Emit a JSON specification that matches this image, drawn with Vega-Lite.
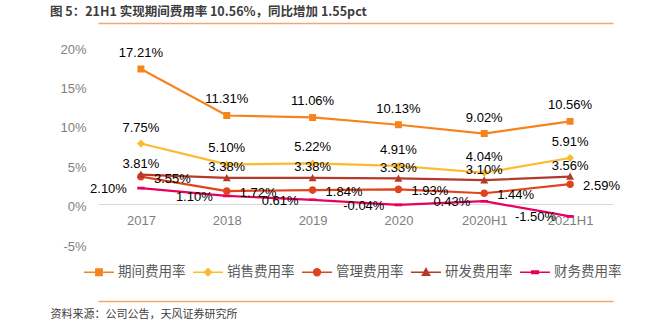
{
  "$schema": "https://vega.github.io/schema/vega-lite/v6.json",
  "width": 515,
  "height": 197,
  "autosize": "none",
  "padding": {"left": 98, "top": 47, "right": 47, "bottom": 83},
  "config": {
    "view": {"stroke": null},
    "font": "Liberation Sans",
    "locale": {"number": {"decimal": ".", "thousands": ",", "grouping": [3], "currency": ["", ""], "minus": "-"}}
  },
  "title": {
    "text": "图 5：21H1 实现期间费用率 10.56%，同比增加 1.55pct",
    "anchor": "start",
    "frame": "group",
    "dx": -48,
    "offset": 5,
    "font": "Noto Sans CJK SC",
    "fontSize": 12.5,
    "fontWeight": "bold",
    "color": "#3c3c3c"
  },
  "data": {
    "values": [
      {"period": "2017", "series": "期间费用率", "value": 0.1721},
      {"period": "2018", "series": "期间费用率", "value": 0.1131},
      {"period": "2019", "series": "期间费用率", "value": 0.1106},
      {"period": "2020", "series": "期间费用率", "value": 0.1013},
      {"period": "2020H1", "series": "期间费用率", "value": 0.0902},
      {"period": "2021H1", "series": "期间费用率", "value": 0.1056},
      {"period": "2017", "series": "销售费用率", "value": 0.0775},
      {"period": "2018", "series": "销售费用率", "value": 0.0510},
      {"period": "2019", "series": "销售费用率", "value": 0.0522},
      {"period": "2020", "series": "销售费用率", "value": 0.0491},
      {"period": "2020H1", "series": "销售费用率", "value": 0.0404},
      {"period": "2021H1", "series": "销售费用率", "value": 0.0591},
      {"period": "2017", "series": "管理费用率", "value": 0.0355},
      {"period": "2018", "series": "管理费用率", "value": 0.0172},
      {"period": "2019", "series": "管理费用率", "value": 0.0184},
      {"period": "2020", "series": "管理费用率", "value": 0.0193},
      {"period": "2020H1", "series": "管理费用率", "value": 0.0144},
      {"period": "2021H1", "series": "管理费用率", "value": 0.0259},
      {"period": "2017", "series": "研发费用率", "value": 0.0381},
      {"period": "2018", "series": "研发费用率", "value": 0.0338},
      {"period": "2019", "series": "研发费用率", "value": 0.0338},
      {"period": "2020", "series": "研发费用率", "value": 0.0333},
      {"period": "2020H1", "series": "研发费用率", "value": 0.0310},
      {"period": "2021H1", "series": "研发费用率", "value": 0.0356},
      {"period": "2017", "series": "财务费用率", "value": 0.0210},
      {"period": "2018", "series": "财务费用率", "value": 0.0110},
      {"period": "2019", "series": "财务费用率", "value": 0.0061},
      {"period": "2020", "series": "财务费用率", "value": -0.0004},
      {"period": "2020H1", "series": "财务费用率", "value": 0.0043},
      {"period": "2021H1", "series": "财务费用率", "value": -0.0150}
    ]
  },
  "encoding": {
    "y": {
      "field": "value",
      "type": "quantitative",
      "scale": {"domain": [-0.05, 0.2], "nice": false, "zero": false},
      "axis": {
        "values": [-0.05, 0, 0.05, 0.1, 0.15, 0.2],
        "format": ".0%",
        "title": null,
        "grid": false,
        "domain": false,
        "ticks": false,
        "labelPadding": 12,
        "labelColor": "#7f7f7f",
        "labelFontSize": 13,
        "labelFont": "Liberation Sans",
        "labelOffset": 2
      }
    }
  },
  "layer": [
    {
      "mark": {"type": "line", "strokeWidth": 2.2},
      "encoding": {
        "x": {
          "field": "period",
          "type": "ordinal",
          "sort": ["2017", "2018", "2019", "2020", "2020H1", "2021H1"],
          "axis": {
            "orient": "bottom",
            "offset": -40,
            "title": null,
            "ticks": false,
            "labelAngle": 0,
            "labelPadding": 10,
            "labelColor": "#7f7f7f",
            "labelFontSize": 13,
            "labelFont": "Liberation Sans",
            "domainColor": "#d9d9d9",
            "domainWidth": 1
          }
        },
        "color": {
          "field": "series",
          "type": "nominal",
          "scale": {
            "domain": ["期间费用率", "销售费用率", "管理费用率", "研发费用率", "财务费用率"],
            "range": ["#F5841F", "#FDBA2C", "#E0441C", "#B43B2B", "#E8005C"]
          }
        }
      }
    },
    {
      "mark": {"type": "point", "filled": true, "opacity": 1, "size": 1100},
      "encoding": {
        "x": {
          "field": "period",
          "type": "ordinal",
          "sort": ["2017", "2018", "2019", "2020", "2020H1", "2021H1"],
          "axis": {
            "orient": "top",
            "offset": 24,
            "title": null,
            "labels": false,
            "ticks": false,
            "domainColor": "#F5A66A",
            "domainWidth": 1.5
          }
        },
        "color": {
          "field": "series",
          "type": "nominal",
          "scale": {
            "domain": ["期间费用率", "销售费用率", "管理费用率", "研发费用率", "财务费用率"],
            "range": ["#F5841F", "#FDBA2C", "#E0441C", "#B43B2B", "#E8005C"]
          },
          "legend": {
            "title": null,
            "orient": "none",
            "legendX": -15,
            "legendY": 209,
            "direction": "horizontal",
            "columns": 5,
            "symbolSize": 900,
            "labelFont": "Noto Sans CJK SC",
            "labelFontSize": 13.5,
            "labelColor": "#595959",
            "labelOffset": 3,
            "columnPadding": 4,
            "encode": {
              "symbols": {
                "update": {
                  "stroke": {"scale": "color", "field": "value"},
                  "strokeWidth": {"value": 2}
                }
              }
            }
          }
        },
        "shape": {
          "field": "series",
          "type": "nominal",
          "scale": {
            "domain": ["期间费用率", "销售费用率", "管理费用率", "研发费用率", "财务费用率"],
            "range": [
              "M-1,0H1M-0.21,-0.21H0.21V0.21H-0.21Z",
              "M-1,0H1M0,-0.24L0.24,0L0,0.24L-0.24,0Z",
              "M-1,0H1M-0.23,0A0.23,0.23,0,1,0,0.23,0A0.23,0.23,0,1,0,-0.23,0Z",
              "M-1,0H1M0,-0.24L0.24,0.2L-0.24,0.2Z",
              "M-1,0H1M-0.22,-0.08H0.22V0.08H-0.22Z"
            ]
          },
          "legend": {
            "title": null,
            "orient": "none",
            "legendX": -15,
            "legendY": 209,
            "direction": "horizontal",
            "columns": 5,
            "symbolSize": 900,
            "labelFont": "Noto Sans CJK SC",
            "labelFontSize": 13.5,
            "labelColor": "#595959",
            "labelOffset": 3,
            "columnPadding": 4,
            "encode": {
              "symbols": {
                "update": {
                  "stroke": {"scale": "color", "field": "value"},
                  "strokeWidth": {"value": 2}
                }
              }
            }
          }
        }
      }
    },
    {
      "transform": [{"filter": "datum.series === '期间费用率' || datum.series === '销售费用率'"}],
      "mark": {"type": "text", "dy": -16, "fontSize": 13, "font": "Liberation Sans", "color": "#000000", "baseline": "middle"},
      "encoding": {
        "x": {"field": "period", "type": "ordinal", "sort": ["2017", "2018", "2019", "2020", "2020H1", "2021H1"], "axis": null},
        "text": {"field": "value", "type": "quantitative", "format": ".2%"}
      }
    },
    {
      "transform": [{"filter": "datum.series === '研发费用率'"}],
      "mark": {"type": "text", "dy": -10.5, "fontSize": 13, "font": "Liberation Sans", "color": "#000000", "baseline": "middle"},
      "encoding": {
        "x": {"field": "period", "type": "ordinal", "sort": ["2017", "2018", "2019", "2020", "2020H1", "2021H1"], "axis": null},
        "text": {"field": "value", "type": "quantitative", "format": ".2%"}
      }
    },
    {
      "transform": [{"filter": "datum.series === '管理费用率'"}],
      "mark": {"type": "text", "dx": 13, "dy": 2, "align": "left", "fontSize": 13, "font": "Liberation Sans", "color": "#000000", "baseline": "middle"},
      "encoding": {
        "x": {"field": "period", "type": "ordinal", "sort": ["2017", "2018", "2019", "2020", "2020H1", "2021H1"], "axis": null},
        "text": {"field": "value", "type": "quantitative", "format": ".2%"}
      }
    },
    {
      "transform": [{"filter": "datum.series === '财务费用率'"}],
      "mark": {"type": "text", "dx": -14, "dy": 1, "align": "right", "fontSize": 13, "font": "Liberation Sans", "color": "#000000", "baseline": "middle"},
      "encoding": {
        "x": {
          "field": "period",
          "type": "ordinal",
          "sort": ["2017", "2018", "2019", "2020", "2020H1", "2021H1"],
          "axis": {
            "orient": "bottom",
            "offset": 57,
            "labels": false,
            "ticks": false,
            "domainColor": "#F5A66A",
            "domainWidth": 1.5,
            "title": "资料来源：公司公告，天风证券研究所",
            "titleFont": "Noto Sans CJK SC",
            "titleFontSize": 11,
            "titleFontWeight": "normal",
            "titleColor": "#404040",
            "titleAnchor": "start",
            "titleAlign": "left",
            "titleBaseline": "middle",
            "titleX": -48,
            "titleY": 13
          }
        },
        "text": {"field": "value", "type": "quantitative", "format": ".2%"}
      }
    }
  ],
  "resolve": {"axis": {"x": "independent"}}
}
